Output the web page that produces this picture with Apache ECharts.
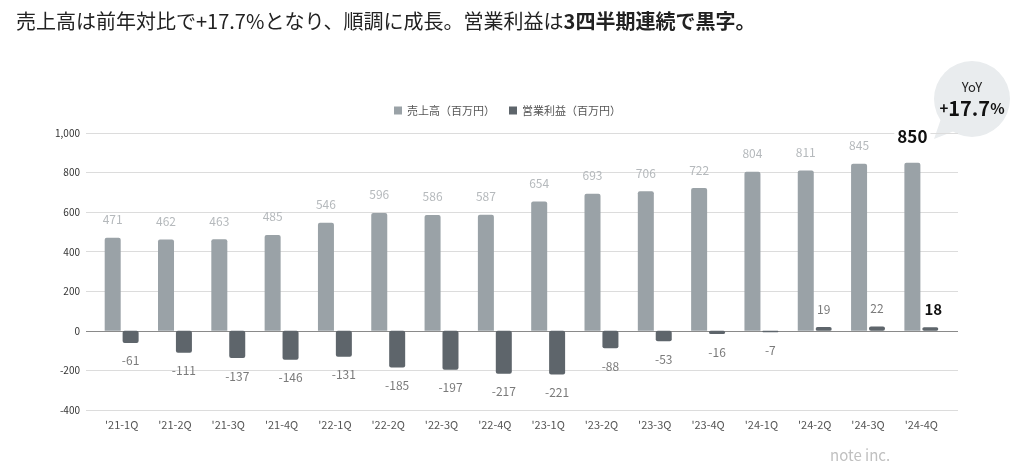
<!DOCTYPE html>
<html>
<head>
<meta charset="utf-8">
<script src="https://cdn.jsdelivr.net/npm/echarts@6/dist/echarts.min.js"></script>
<style>
html, body {margin: 0; padding: 0; background: #fff;}
#main {width: 1015px; height: 469px;}
</style>
</head>
<body>
<div id="main"></div>
<script>
var quarters = ["'21-1Q", "'21-2Q", "'21-3Q", "'21-4Q", "'22-1Q", "'22-2Q", "'22-3Q", "'22-4Q",
    "'23-1Q", "'23-2Q", "'23-3Q", "'23-4Q", "'24-1Q", "'24-2Q", "'24-3Q", "'24-4Q"];
var sales = [471, 462, 463, 485, 546, 596, 586, 587, 654, 693, 706, 722, 804, 811, 845, 850];
var profit = [-61, -111, -137, -146, -131, -185, -197, -217, -221, -88, -53, -16, -7, 19, 22, 18];
var yTicks = [-400, -200, 0, 200, 400, 600, 800, 1000];

var font = '"Noto Sans CJK JP", "Noto Sans", sans-serif';
var dom = document.getElementById('main');
var chart = echarts.init(dom);

// last quarter is highlighted in bold black
var salesData = sales.map(function (v, i) {
    if (i === sales.length - 1) {
        return {value: v, label: {color: '#111', fontSize: 17, fontWeight: 'bold', distance: 18,
            backgroundColor: '#fff', padding: [0, 3], textBorderWidth: 0}};
    }
    return v;
});
var profitData = profit.map(function (v, i) {
    var item = {value: v};
    if (v >= 0) {
        item.label = {position: 'top', distance: 12};
    }
    if (i === profit.length - 1) {
        item.label = {position: 'top', distance: 10, color: '#111', fontSize: 15, fontWeight: 'bold', offset: [3, 0]};
    }
    return item;
});

var splitColors = yTicks.map(function (t) { return t === 0 ? '#8a8a8a' : '#dcdcdc'; });

option = {
    textStyle: {fontFamily: font},
    title: {
        text: '{a|売上高は前年対比で+17.7%となり、順調に成長。営業利益は}{b|3四半期連続で黒字。}',
        left: 11,
        top: 6,
        textStyle: {
            rich: {
                a: {fontSize: 20, color: '#222', fontWeight: 'normal', fontFamily: font},
                b: {fontSize: 20, color: '#222', fontWeight: 'bold', fontFamily: font}
            }
        }
    },
    legend: {
        top: 100,
        left: 'center',
        itemWidth: 8,
        itemHeight: 8,
        itemGap: 14,
        icon: 'rect',
        textStyle: {fontSize: 11, color: '#555'},
        data: ['売上高（百万円）', '営業利益（百万円）']
    },
    grid: [
        {left: 86, right: 57, top: 133, bottom: 59},
        {left: 95, right: 67, top: 133, bottom: 59}
    ],
    xAxis: [
        {type: 'category', gridIndex: 0, data: quarters, show: false},
        {
            type: 'category', gridIndex: 1, data: quarters,
            axisLine: {show: false},
            axisTick: {show: false},
            axisLabel: {color: '#555', fontSize: 11, margin: 9}
        }
    ],
    yAxis: [
        {
            type: 'value', gridIndex: 0, min: -400, max: 1000, interval: 200,
            axisLine: {show: false},
            axisTick: {show: false},
            axisLabel: {
                color: '#333', fontSize: 10, margin: 6,
                formatter: function (v) { return v.toLocaleString('en-US'); }
            },
            splitLine: {lineStyle: {color: splitColors, width: 1}}
        },
        {type: 'value', gridIndex: 1, min: -400, max: 1000, interval: 200, show: false}
    ],
    series: [
        {
            name: '売上高（百万円）',
            type: 'bar',
            xAxisIndex: 1,
            yAxisIndex: 1,
            data: salesData,
            barWidth: 16,
            barGap: '12%',
            itemStyle: {color: '#9aa2a7', borderRadius: [2, 2, 0, 0]},
            label: {
                show: true, position: 'top', distance: 12,
                color: '#b5b9bc', fontSize: 12, fontWeight: 'normal'
            }
        },
        {
            name: '営業利益（百万円）',
            type: 'bar',
            xAxisIndex: 1,
            yAxisIndex: 1,
            data: profitData,
            barWidth: 16,
            itemStyle: {color: '#5e656b', borderRadius: 2},
            label: {
                show: true, position: 'bottom', distance: 12,
                color: '#7a7a7a', fontSize: 12
            }
        }
    ],
    graphic: [
        {
            type: 'polygon',
            shape: {points: [[944, 110], [962, 128], [934, 139]]},
            style: {fill: '#e9ecee'}
        },
        {
            type: 'circle',
            shape: {cx: 972, cy: 99, r: 38},
            style: {fill: '#e9ecee'}
        },
        {
            type: 'text',
            x: 972, y: 87,
            style: {text: 'YoY', fill: '#222', font: '13px ' + font, align: 'center', verticalAlign: 'middle'}
        },
        {
            type: 'text',
            x: 972, y: 108,
            style: {
                text: '{s|+}{b|17.7}{s|%}',
                align: 'center', verticalAlign: 'middle',
                rich: {
                    s: {fontSize: 15, fontWeight: 'bold', fill: '#111', fontFamily: font},
                    b: {fontSize: 20, fontWeight: 'bold', fill: '#111', fontFamily: font}
                }
            }
        },
        {
            type: 'text',
            x: 830, y: 448,
            style: {text: 'note inc.', fill: '#c0c0c0', font: '15px ' + font}
        }
    ]
};

chart.setOption(option, true);
</script>
</body>
</html>
